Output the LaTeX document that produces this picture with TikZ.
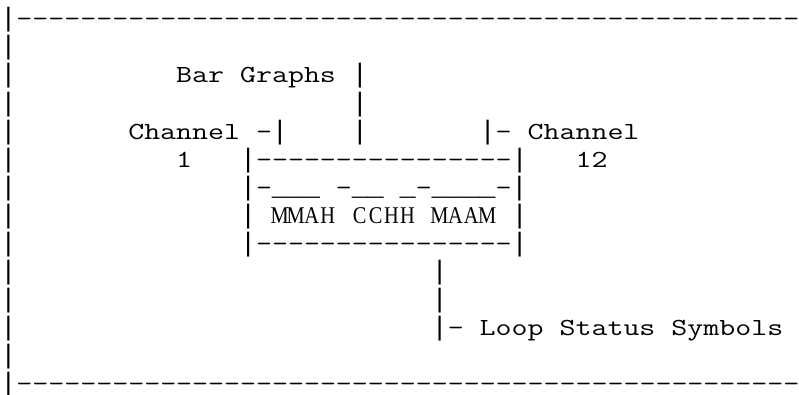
\documentclass[tikz,border=0pt]{standalone}
\usepackage{fontspec}
\usepackage{graphicx}
\newfontfamily\seriffam{Liberation Serif}[Ligatures=TeXOff]
\newfontfamily\barfam{Liberation Mono}[Ligatures=TeXOff]
\ExplSyntaxOn
\cs_new:Npn \myrep #1#2 { \prg_replicate:nn {#1} {#2} }
\ExplSyntaxOff
\newcommand\spc[1]{\myrep{#1}{~}}
\newcommand\dsh[1]{\myrep{#1}{-\kern0pt}}
\newcommand\vb{\makebox[9.466pt]{\barfam\fontsize{20pt}{24pt}\selectfont\scalebox{0.8}[1]{|}}}
\newcommand\us{\makebox[9.466pt]{\barfam\fontsize{20pt}{24pt}\selectfont\scalebox{0.8}[1]{\textunderscore}}}
\newcommand\asciiline[1]{\scalebox{1.2645}[1]{#1}}
\newcommand\ltr[1]{\makebox[11.97pt]{\scalebox{0.85}[1]{#1}}}
\tikzset{
  asciirow/.style={anchor=base west, inner sep=0pt, outer sep=0pt,
    font=\ttfamily\fontsize{18.4pt}{22pt}\selectfont, text=black},
  serifword/.style={anchor=base west, inner sep=0pt, outer sep=0pt,
    font=\seriffam\fontsize{18pt}{21pt}\selectfont, text=black}
}
\begin{document}
\begin{tikzpicture}
\useasboundingbox (0pt,0pt) rectangle (599.25pt,-295.5pt);
\begin{scope}[x=11.97pt, y=-21.06pt, shift={(0.375pt,-20.1pt)}]
\node[asciirow] (r0)  at (0,0)  {\asciiline{\vb\dsh{49}}};
\node[asciirow] (r1)  at (0,1)  {\asciiline{\vb}};
\node[asciirow] (r2)  at (0,2)  {\asciiline{\vb\spc{10}Bar~Graphs~\vb}};
\node[asciirow] (r3)  at (0,3)  {\asciiline{\vb\spc{21}\vb}};
\node[asciirow] (r4)  at (0,4)  {\asciiline{\vb\spc{7}Channel~-\vb\spc{4}\vb\spc{7}\vb-~Channel}};
\node[asciirow] (r5)  at (0,5)  {\asciiline{\vb\spc{10}1\spc{3}\vb\dsh{16}\vb\spc{3}12}};
\node[asciirow] (r6)  at (0,6)  {\asciiline{\vb\spc{14}\vb-\us\us\us~-\us\us~\us-\us\us\us\us-\vb}};
\node[asciirow] (r7)  at (0,7)  {\asciiline{\vb\spc{14}\vb\spc{16}\vb}};
\node[asciirow] (r8)  at (0,8)  {\asciiline{\vb\spc{14}\vb\dsh{16}\vb}};
\node[asciirow] (r9)  at (0,9)  {\asciiline{\vb\spc{26}\vb}};
\node[asciirow] (r10) at (0,10) {\asciiline{\vb\spc{26}\vb}};
\node[asciirow] (r11) at (0,11) {\asciiline{\vb\spc{26}\vb-~Loop~Status~Symbols}};
\node[asciirow] (r12) at (0,12) {\asciiline{\vb}};
\node[asciirow] (r13) at (0,13) {\asciiline{\vb\dsh{49}}};
\node[serifword] (w1) at (17,7) {\ltr{M}\ltr{M}\ltr{A}\ltr{H}};
\node[serifword] (w2) at (22,7) {\ltr{C}\ltr{C}\ltr{H}\ltr{H}};
\node[serifword] (w3) at (27,7) {\ltr{M}\ltr{A}\ltr{A}\ltr{M}};
\end{scope}
\end{tikzpicture}
\end{document}
